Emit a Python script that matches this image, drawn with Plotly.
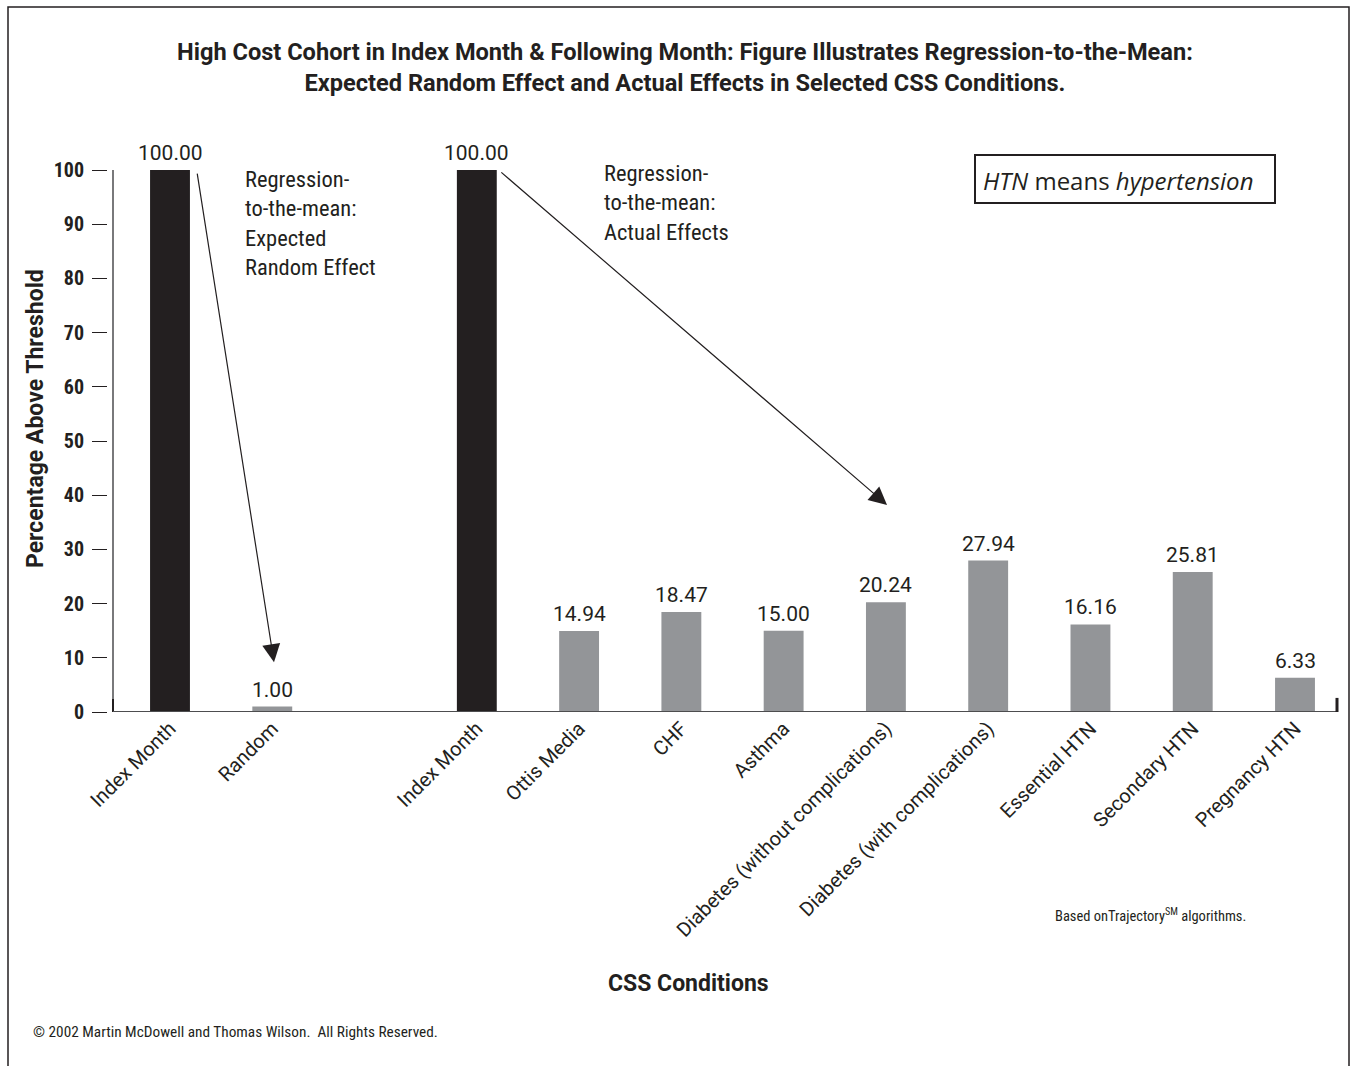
import plotly.graph_objects as go

# ---- data ----
group1_labels = ["Index Month", "Random"]
group1_values = [100.00, 1.00]
group2_labels = ["Index Month", "Ottis Media", "CHF", "Asthma",
                 "Diabetes (without complications)", "Diabetes (with complications)",
                 "Essential HTN", "Secondary HTN", "Pregnancy HTN"]
group2_values = [100.00, 14.94, 18.47, 15.00, 20.24, 27.94, 16.16, 25.81, 6.33]
y_ticks = list(range(0, 101, 10))

labels = group1_labels + group2_labels
values = group1_values + group2_values
xpos = list(range(len(group1_labels))) + [len(group1_labels) + 1 + i for i in range(len(group2_labels))]

BLACK = "#231f20"
GRAY = "#939598"
AXIS = "#4d4d4f"
colors = [BLACK if l == "Index Month" else GRAY for l in labels]

COND = "Roboto Condensed, Liberation Sans Narrow, Roboto, sans-serif"
REG = "Roboto, Liberation Sans, sans-serif"
WIDE = "Open Sans, Roboto, sans-serif"

W, H = 1353, 1066
L, R, T, B = 108, 1338, 170, 712


def px(x):
    return (x - L) / (R - L)


def py(y):
    return (B - y) / (B - T)


fig = go.Figure()
fig.add_trace(go.Bar(x=xpos, y=values, marker=dict(color=colors, line=dict(width=0)),
                     width=0.39, hoverinfo="x+y"))

ann = []
for x, v in zip(xpos, values):
    ann.append(dict(x=x, y=v, xref="x", yref="y", text=f"{v:.2f}", showarrow=False,
                    yanchor="bottom", yshift=3, font=dict(size=21, color=BLACK, family=REG)))

# arrows
ann.append(dict(x=xpos[1] + 0.017, y=9.2, ax=xpos[0] + 0.264, ay=99.6, xref="x", yref="y",
                axref="x", ayref="y", showarrow=True, arrowhead=2, arrowsize=3,
                arrowwidth=1.2, arrowcolor=BLACK, text="", standoff=0))
ann.append(dict(x=xpos[6] + 0.011, y=38.2, ax=xpos[2] + 0.225, ay=99.8, xref="x", yref="y",
                axref="x", ayref="y", showarrow=True, arrowhead=2, arrowsize=3,
                arrowwidth=1.2, arrowcolor=BLACK, text="", standoff=0))

# texts
ann.append(dict(x=px(243), y=py(164), xref="paper", yref="paper", xanchor="left", yanchor="top",
                align="left", showarrow=False,
                text="Regression-<br>to-the-mean:<br>Expected<br>Random Effect",
                font=dict(size=22.5, color=BLACK, family=COND)))
ann.append(dict(x=px(602), y=py(158), xref="paper", yref="paper", xanchor="left", yanchor="top",
                align="left", showarrow=False,
                text="Regression-<br>to-the-mean:<br>Actual Effects",
                font=dict(size=22.5, color=BLACK, family=COND)))
ann.append(dict(x=px(981), y=py(181), xref="paper", yref="paper", xanchor="left", yanchor="middle",
                showarrow=False, text="<i>HTN</i> means <i>hypertension</i>",
                font=dict(size=24, color=BLACK, family=WIDE)))
ann.append(dict(x=px(685), y=py(67), xref="paper", yref="paper", xanchor="center", yanchor="middle",
                showarrow=False,
                text="<b>High Cost Cohort in Index Month &amp; Following Month: Figure Illustrates Regression-to-the-Mean:<br>"
                     "Expected Random Effect and Actual Effects in Selected CSS Conditions.</b>",
                font=dict(size=23.6, color=BLACK, family=REG)))
ann.append(dict(x=px(35), y=py(419), xref="paper", yref="paper", xanchor="center", yanchor="middle",
                showarrow=False, textangle=-90, text="<b>Percentage Above Threshold</b>",
                font=dict(size=23, color=BLACK, family=REG)))
ann.append(dict(x=px(688), y=py(983), xref="paper", yref="paper", xanchor="center", yanchor="middle",
                showarrow=False, text="<b>CSS Conditions</b>",
                font=dict(size=23, color=BLACK, family=REG)))
ann.append(dict(x=px(1053), y=py(915), xref="paper", yref="paper", xanchor="left", yanchor="middle",
                showarrow=False, text="Based onTrajectory<sup>SM</sup> algorithms.",
                font=dict(size=14.5, color=BLACK, family=COND)))
ann.append(dict(x=px(31), y=py(1032), xref="paper", yref="paper", xanchor="left", yanchor="middle",
                showarrow=False, text="© 2002 Martin McDowell and Thomas Wilson.  All Rights Reserved.",
                font=dict(size=15.3, color=BLACK, family=COND)))

shapes = [
    # frame
    dict(type="rect", xref="paper", yref="paper", x0=px(8), x1=px(1349), y0=py(1080), y1=py(7),
         line=dict(color=BLACK, width=1.5), fillcolor="rgba(0,0,0,0)", layer="below"),
    # y axis line
    dict(type="line", xref="paper", yref="y", x0=px(113), x1=px(113), y0=0, y1=100,
         line=dict(color=AXIS, width=1.5)),
    # darker base segment of y axis
    dict(type="line", xref="paper", yref="y", x0=px(113), x1=px(113), y0=0, y1=2.4,
         line=dict(color=BLACK, width=2)),
    # x axis line
    dict(type="line", xref="paper", yref="y", x0=px(113), x1=1, y0=0, y1=0,
         line=dict(color=AXIS, width=2)),
    # right end tick
    dict(type="line", xref="paper", yref="y", x0=px(1337), x1=px(1337), y0=0, y1=2.6,
         line=dict(color=BLACK, width=3)),
    # HTN box
    dict(type="rect", xref="paper", yref="paper", x0=px(975), x1=px(1275), y0=py(203), y1=py(155),
         line=dict(color=BLACK, width=2), fillcolor="rgba(0,0,0,0)"),
]

fig.update_layout(
    width=W, height=H, autosize=False,
    margin=dict(l=L, r=W - R, t=T, b=H - B, pad=0),
    paper_bgcolor="white", plot_bgcolor="white",
    showlegend=False,
    annotations=ann, shapes=shapes,
    xaxis=dict(range=[-(170 - L) / 102.27, xpos[-1] + (R - 1295) / 102.27],
               tickvals=xpos, ticktext=labels, tickangle=-45,
               tickfont=dict(size=20, color=BLACK, family=REG),
               showline=False, showgrid=False, zeroline=False, ticks=""),
    yaxis=dict(range=[0, 100], tickvals=y_ticks, ticktext=[f"<b>{t}</b>" for t in y_ticks],
               tickfont=dict(size=20, color=BLACK, family=COND),
               ticks="outside", ticklen=15, tickwidth=1.2, tickcolor=BLACK,
               ticklabelstandoff=4,
               showline=False, showgrid=False, zeroline=False),
)

fig.write_html("out.html")
